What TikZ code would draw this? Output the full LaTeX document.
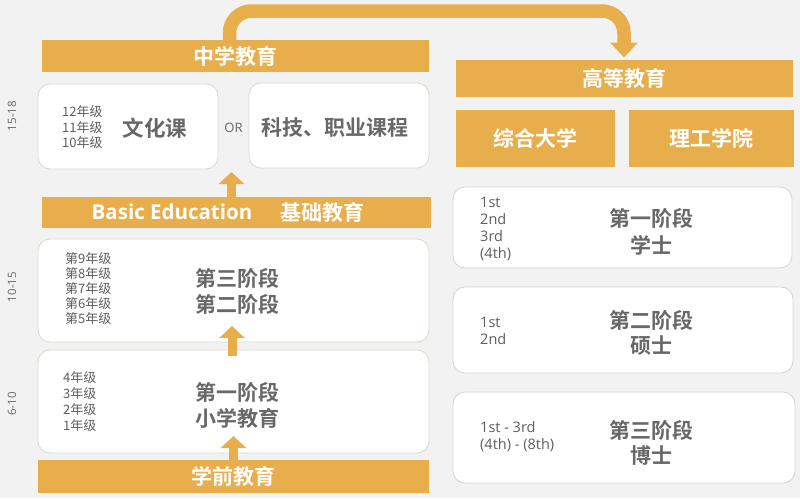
\documentclass[tikz,border=0pt]{standalone}
\usepackage{fontspec}
\setmainfont{Noto Sans CJK SC}[BoldFont={Noto Sans CJK SC Bold}]
\newfontfamily\latinfont{Open Sans}[BoldFont={Open Sans Bold}]
\usetikzlibrary{arrows.meta,positioning,calc}
\definecolor{barorange}{HTML}{E8AE4B}
\definecolor{bggray}{HTML}{F2F2F2}
\definecolor{txtgray}{HTML}{686868}
\definecolor{boxleft}{HTML}{D6DDCB}
\definecolor{boxright}{HTML}{CBD7DB}
\tikzset{
  bar/.style={fill=barorange,text=white,inner sep=0pt,
    font=\fontsize{21}{24}\selectfont\bfseries},
  stagebox/.style={fill=white,draw=boxleft,line width=0.8pt,rounded corners=12pt,inner sep=0pt},
  unibox/.style={stagebox,draw=boxright},
  bigtxt/.style={text=txtgray,align=center,inner sep=0pt,
    font=\fontsize{21}{26}\selectfont\bfseries},
  grades/.style={text=txtgray!90!black,align=left,anchor=west,inner sep=0pt},
  agelbl/.style={text=txtgray,rotate=90,inner sep=0pt,font=\latinfont\fontsize{11.5}{13}\selectfont},
  uparrow/.style={draw=barorange,line width=9pt,-{Triangle[width=25pt,length=12pt]}},
}
\begin{document}
\begin{tikzpicture}[x=1pt,y=-1pt]
  \fill[bggray] (0,0) rectangle (800,498);
  \useasboundingbox (0,0) rectangle (800,498);
  % left column
  \node[bar,minimum width=387,minimum height=32] (zhongxue) at (235.5,56) {中学教育};
  \node[stagebox,minimum width=180,minimum height=85] (wenhua) at (128,126.5) {};
  \node[stagebox,minimum width=180,minimum height=85] (keji) at (339,125.5) {};
  \node[text=txtgray,inner sep=0pt,font=\latinfont\fontsize{13}{15}\selectfont] (or) at (233.5,128) {OR};
  \node[bar,minimum width=389,minimum height=31] (basic) at (236.5,212.5) {};
  \node[text=white,inner sep=0pt,font=\latinfont\fontsize{20.5}{24}\selectfont\bfseries] (basiclbl) at (172,212) {Basic Education};
  \node[text=white,inner sep=0pt,font=\fontsize{21}{24}\selectfont\bfseries] (jichu) at (322,212.5) {基础教育};
  \node[stagebox,minimum width=391,minimum height=103] (mid) at (233.5,290.5) {};
  \node[stagebox,minimum width=391,minimum height=103] (prim) at (233.5,401.5) {};
  \node[bar,minimum width=391,minimum height=33] (xueqian) at (233.5,476.5) {学前教育};
  % texts in left boxes
  \node[bigtxt,font=\fontsize{21.5}{26}\selectfont\bfseries] (wenhualbl) at (155,128) {文化课};
  \node[bigtxt,font=\fontsize{21}{26}\selectfont\bfseries] (kejilbl) at (335,128) {科技、职业课程};
  \node[grades,font=\fontsize{13}{15.5}\selectfont] (g10) at (62,127.5) {12年级\\11年级\\10年级};
  \node[bigtxt] (midlbl) at (237,291) {第三阶段\\第二阶段};
  \node[grades,font=\fontsize{13}{15.2}\selectfont] (g5) at (65,288.5) {第9年级\\第8年级\\第7年级\\第6年级\\第5年级};
  \node[bigtxt] (primlbl) at (237,405) {第一阶段\\小学教育};
  \node[grades,font=\fontsize{13}{15.7}\selectfont] (g1) at (63,401.5) {4年级\\3年级\\2年级\\1年级};
  % ages
  \node[agelbl] (age1) at (12,116) {15-18};
  \node[agelbl] (age2) at (12,287) {10-15};
  \node[agelbl] (age3) at (12,404) {6-10};
  % right column
  \node[bar,minimum width=337,minimum height=37] (gaodeng) at (624.5,78.5) {高等教育};
  \node[bar,minimum width=159,minimum height=57] (zonghe) at (535.5,138.5) {综合大学};
  \node[bar,minimum width=165,minimum height=57] (ligong) at (711.5,138.5) {理工学院};
  \node[unibox,minimum width=339,minimum height=81] (bach) at (622.5,227.5) {};
  \node[unibox,minimum width=340,minimum height=86] (mast) at (623,330) {};
  \node[unibox,minimum width=342,minimum height=91] (doct) at (624,437.5) {};
  \node[bigtxt,font=\fontsize{21}{27}\selectfont\bfseries] (bachlbl) at (651,231.5) {第一阶段\\学士};
  \node[grades,font=\latinfont\fontsize{14.5}{17}\selectfont] (y1) at (480,229) {1st\\2nd\\3rd\\(4th)};
  \node[bigtxt,font=\fontsize{21}{25}\selectfont\bfseries] (mastlbl) at (651,332.5) {第二阶段\\硕士};
  \node[grades,font=\latinfont\fontsize{14.5}{16.5}\selectfont] (y2) at (480,331) {1st\\2nd};
  \node[bigtxt,font=\fontsize{21}{25}\selectfont\bfseries] (doctlbl) at (651,442.5) {第三阶段\\博士};
  \node[grades,font=\latinfont\fontsize{14.5}{17}\selectfont] (y3) at (480,437) {1st - 3rd\\(4th) - (8th)};
  % arrows
  \coordinate (tip1) at (231.5,172);
  \coordinate (tip2) at (232,326);
  \coordinate (tip3) at (233.5,436);
  \draw[uparrow] (basic.north -| tip1) -- (tip1);
  \draw[uparrow] ($(prim.north -| tip2)+(0,6)$) -- (tip2);
  \draw[uparrow] (xueqian.north -| tip3) -- (tip3);
  \coordinate (bend1) at (229.5,11);
  \coordinate (bend2) at (624,11);
  \coordinate (tip4) at (624,57.5);
  \draw[draw=barorange,line width=13.5pt,rounded corners=22pt,-{Triangle[width=27pt,length=15pt]}]
    (zhongxue.north -| bend1) -- (bend1) -- (bend2) -- (tip4);
\end{tikzpicture}
\end{document}
